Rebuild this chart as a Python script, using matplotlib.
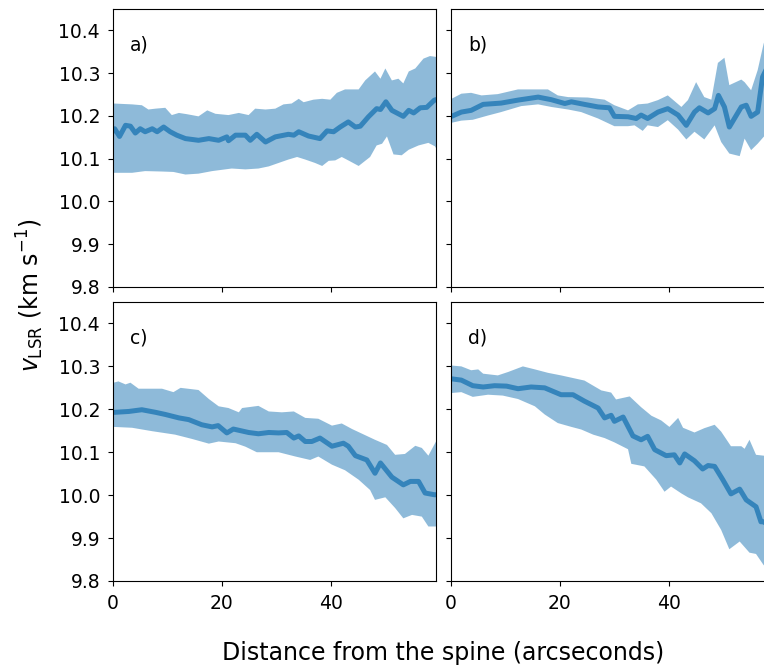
import numpy as np
import matplotlib
matplotlib.use("Agg")
import matplotlib.pyplot as plt

# ---------------- data ----------------
# Panel a
a_x = [0.0, 0.3, 1.2, 2.3, 3.2, 4.1, 5.0, 5.9, 7.2, 8.1, 9.3, 10.5, 11.7, 13.3, 15.7, 17.6, 19.4,
       20.9, 21.2, 22.5, 24.3, 25.2, 26.4, 28.0, 29.8, 32.2, 33.2, 34.1, 35.9, 38.0, 39.3, 40.5,
       41.7, 43.2, 44.5, 45.4, 46.9, 48.4, 49.1, 50.1, 51.2, 53.3, 54.3, 55.2, 56.4, 57.6, 59.0, 59.3]
a_mean = [10.165, 10.170, 10.152, 10.178, 10.176, 10.160, 10.170, 10.163, 10.170, 10.163, 10.174,
          10.163, 10.155, 10.147, 10.143, 10.147, 10.143, 10.151, 10.142, 10.155, 10.155, 10.143,
          10.157, 10.139, 10.151, 10.157, 10.155, 10.163, 10.153, 10.147, 10.165, 10.163, 10.174,
          10.186, 10.174, 10.176, 10.198, 10.217, 10.215, 10.233, 10.213, 10.199, 10.213, 10.207,
          10.219, 10.220, 10.237, 10.238]
a_hi_x = [0.0, 0.1, 3.5, 5.3, 6.5, 7.8, 9.6, 10.8, 12.1, 13.6, 15.7, 17.3, 18.8, 21.2, 23.1, 24.9,
          26.1, 28.0, 29.8, 31.3, 32.8, 34.1, 35.0, 36.8, 38.4, 39.9, 41.1, 42.6, 45.1, 46.3, 48.1,
          49.1, 50.0, 51.2, 52.4, 53.3, 54.3, 55.5, 57.0, 58.2, 59.3]
a_hi = [10.229, 10.229, 10.227, 10.225, 10.215, 10.217, 10.219, 10.202, 10.207, 10.204, 10.199,
        10.213, 10.205, 10.202, 10.207, 10.202, 10.217, 10.215, 10.217, 10.227, 10.229, 10.240,
        10.232, 10.238, 10.240, 10.238, 10.254, 10.262, 10.262, 10.283, 10.304, 10.287, 10.311,
        10.283, 10.287, 10.276, 10.304, 10.311, 10.334, 10.340, 10.338]
a_lo_x = [0.0, 0.1, 3.5, 5.9, 9.0, 11.1, 13.3, 15.7, 18.2, 21.8, 24.3, 26.7, 28.6, 30.4, 32.2,
          33.8, 35.3, 37.1, 38.4, 39.6, 40.8, 42.0, 43.2, 45.1, 47.2, 48.4, 49.4, 50.3, 51.5,
          53.0, 54.3, 56.1, 57.9, 59.1, 59.3]
a_lo = [10.067, 10.067, 10.067, 10.071, 10.070, 10.069, 10.063, 10.065, 10.071, 10.077, 10.075,
        10.077, 10.082, 10.090, 10.098, 10.104, 10.098, 10.090, 10.083, 10.095, 10.096, 10.104,
        10.096, 10.083, 10.104, 10.131, 10.135, 10.152, 10.110, 10.108, 10.121, 10.131, 10.137,
        10.129, 10.125]

# Panel b
b_x = [0.0, 0.1, 1.9, 3.7, 5.9, 9.2, 12.3, 16.0, 18.4, 20.9, 22.1, 24.5, 27.0, 29.1, 30.0, 32.5,
       34.0, 34.9, 36.1, 38.0, 39.8, 41.7, 43.2, 44.7, 45.6, 47.2, 48.4, 49.1, 50.2, 51.1, 53.3,
       54.2, 55.1, 56.3, 57.2, 58.3, 59.3]
b_mean = [10.199, 10.199, 10.209, 10.213, 10.227, 10.230, 10.237, 10.244, 10.238, 10.229, 10.233,
          10.227, 10.221, 10.219, 10.199, 10.198, 10.194, 10.202, 10.194, 10.209, 10.217, 10.202,
          10.178, 10.209, 10.219, 10.207, 10.217, 10.248, 10.221, 10.174, 10.221, 10.225, 10.199,
          10.209, 10.291, 10.320, 10.330]
b_hi_x = [0.0, 0.1, 1.9, 3.7, 5.6, 8.6, 12.3, 16.0, 17.8, 19.6, 21.5, 25.1, 28.2, 30.0, 32.5,
          34.3, 36.1, 38.0, 39.8, 42.3, 43.5, 45.0, 46.5, 47.8, 49.0, 50.2, 51.1, 53.3, 53.9,
          55.1, 56.3, 57.4, 58.3, 59.3]
b_hi = [10.240, 10.240, 10.252, 10.254, 10.248, 10.251, 10.262, 10.262, 10.262, 10.248, 10.244,
        10.243, 10.238, 10.225, 10.213, 10.227, 10.229, 10.237, 10.248, 10.221, 10.237, 10.279,
        10.244, 10.238, 10.324, 10.336, 10.272, 10.285, 10.279, 10.260, 10.307, 10.369, 10.400,
        10.410]
b_lo_x = [0.0, 0.1, 1.9, 4.0, 6.8, 9.2, 12.9, 16.0, 18.4, 21.5, 23.9, 27.0, 30.0, 32.5, 33.7,
          35.2, 36.1, 38.0, 39.8, 41.7, 43.2, 44.7, 46.5, 48.4, 49.6, 51.1, 53.0, 53.9, 55.1,
          56.3, 57.4, 58.3, 59.3]
b_lo = [10.184, 10.184, 10.189, 10.191, 10.201, 10.209, 10.223, 10.227, 10.221, 10.215, 10.209,
        10.194, 10.176, 10.176, 10.178, 10.165, 10.178, 10.174, 10.190, 10.168, 10.145, 10.163,
        10.145, 10.178, 10.139, 10.112, 10.106, 10.147, 10.120, 10.135, 10.151, 10.165, 10.170]

# Panel c
c_x = [0.0, 0.3, 2.9, 5.3, 7.8, 9.6, 12.1, 13.9, 16.3, 18.2, 19.3, 20.9, 22.1, 24.9, 26.7, 28.6,
       30.4, 31.9, 33.2, 34.1, 35.3, 36.5, 38.0, 40.2, 42.3, 43.2, 44.5, 46.6, 48.1, 49.1, 51.2,
       53.3, 54.6, 56.1, 57.3, 59.0, 59.3]
c_mean = [10.193, 10.193, 10.195, 10.199, 10.193, 10.188, 10.180, 10.176, 10.164, 10.159, 10.162,
          10.145, 10.154, 10.146, 10.143, 10.146, 10.145, 10.146, 10.133, 10.138, 10.125, 10.125,
          10.133, 10.114, 10.121, 10.114, 10.092, 10.082, 10.051, 10.075, 10.042, 10.024, 10.032,
          10.032, 10.005, 10.001, 10.001]
c_hi_x = [0.0, 0.1, 1.0, 2.3, 3.2, 4.7, 9.0, 11.1, 12.4, 15.7, 17.6, 19.4, 21.2, 23.1, 23.7,
          26.7, 28.6, 31.0, 33.2, 35.3, 37.7, 40.2, 42.0, 43.9, 48.1, 50.3, 51.8, 53.6, 55.5,
          56.7, 57.9, 59.3]
c_hi = [10.262, 10.262, 10.265, 10.258, 10.262, 10.248, 10.248, 10.240, 10.250, 10.245, 10.224,
        10.207, 10.203, 10.193, 10.203, 10.208, 10.195, 10.193, 10.195, 10.180, 10.178, 10.162,
        10.167, 10.154, 10.129, 10.117, 10.094, 10.096, 10.115, 10.110, 10.092, 10.125]
c_lo_x = [0.0, 0.1, 3.5, 7.2, 11.4, 14.5, 17.6, 19.4, 22.5, 24.3, 26.4, 30.4, 33.5, 36.2, 37.7,
          40.2, 42.6, 45.1, 47.2, 48.1, 50.0, 51.8, 53.3, 54.9, 56.7, 57.9, 59.3]
c_lo = [10.159, 10.159, 10.157, 10.149, 10.141, 10.131, 10.120, 10.125, 10.121, 10.113, 10.100,
        10.100, 10.090, 10.082, 10.090, 10.071, 10.058, 10.036, 10.012, 9.989, 9.995, 9.970,
        9.946, 9.954, 9.950, 9.927, 9.927]

# Panel d
d_x = [0.0, 0.1, 1.9, 4.0, 5.9, 8.0, 10.2, 12.3, 14.7, 17.2, 20.2, 22.4, 24.5, 27.0, 28.2, 29.4,
       30.0, 31.6, 33.4, 34.9, 36.1, 37.4, 39.5, 41.0, 42.0, 42.9, 44.7, 46.2, 47.2, 48.4, 49.9,
       51.4, 53.0, 54.2, 56.0, 56.9, 57.4, 58.3, 59.3]
d_mean = [10.271, 10.271, 10.268, 10.255, 10.252, 10.255, 10.254, 10.248, 10.252, 10.250, 10.234,
          10.234, 10.219, 10.203, 10.180, 10.186, 10.172, 10.182, 10.138, 10.129, 10.137, 10.106,
          10.092, 10.094, 10.075, 10.096, 10.080, 10.061, 10.069, 10.067, 10.036, 10.003, 10.014,
          9.989, 9.973, 9.938, 9.938, 9.930, 9.925]
d_hi_x = [0.0, 0.1, 1.9, 3.7, 5.0, 5.9, 8.6, 10.5, 13.2, 15.4, 17.8, 20.2, 22.7, 24.5, 27.6,
          29.4, 30.3, 32.8, 34.9, 36.8, 38.6, 40.1, 41.7, 42.6, 44.7, 46.5, 48.4, 49.6, 51.4,
          53.3, 53.9, 54.8, 56.0, 57.4, 58.3, 59.3]
d_hi = [10.302, 10.302, 10.300, 10.291, 10.293, 10.283, 10.279, 10.287, 10.300, 10.293, 10.285,
        10.279, 10.272, 10.267, 10.244, 10.239, 10.223, 10.230, 10.205, 10.185, 10.174, 10.159,
        10.180, 10.157, 10.146, 10.156, 10.164, 10.148, 10.114, 10.114, 10.108, 10.129, 10.094,
        10.092, 10.090, 10.090]
d_lo_x = [0.0, 0.1, 1.9, 4.0, 6.8, 9.5, 12.3, 15.4, 17.2, 19.6, 22.1, 23.9, 26.1, 28.2, 30.0,
          32.5, 33.1, 35.5, 37.7, 39.2, 40.4, 42.3, 43.5, 45.9, 47.8, 49.6, 51.1, 53.0, 54.8,
          56.0, 57.4, 58.3, 59.3]
d_lo = [10.238, 10.238, 10.240, 10.229, 10.234, 10.232, 10.224, 10.207, 10.188, 10.168, 10.159,
        10.153, 10.141, 10.133, 10.123, 10.107, 10.073, 10.067, 10.036, 10.008, 10.020, 10.004,
        9.995, 9.981, 9.958, 9.919, 9.874, 9.892, 9.866, 9.863, 9.837, 9.830, 9.825]

labels = ["a)", "b)", "c)", "d)"]
panels = [
    (a_x, a_mean, a_hi_x, a_hi, a_lo_x, a_lo),
    (b_x, b_mean, b_hi_x, b_hi, b_lo_x, b_lo),
    (c_x, c_mean, c_hi_x, c_hi, c_lo_x, c_lo),
    (d_x, d_mean, d_hi_x, d_hi, d_lo_x, d_lo),
]
xticks = [0, 20, 40]
yticks = [9.8, 9.9, 10.0, 10.1, 10.2, 10.3, 10.4]

# ---------------- figure ----------------
W, H = 764, 665
fig = plt.figure(figsize=(W / 100, H / 100), dpi=100)

def frac(l, t, r, b):
    return [l / W, 1 - b / H, (r - l) / W, (b - t) / H]

boxes = [frac(113, 9, 436, 287), frac(451, 9, 774, 287),
         frac(113, 302, 436, 581), frac(451, 302, 774, 581)]

fs = 13.5
for i, (box, (mx, my, hx, hy, lx, ly)) in enumerate(zip(boxes, panels)):
    ax = fig.add_axes(box)
    poly_x = list(hx) + list(lx)[::-1]
    poly_y = list(hy) + list(ly)[::-1]
    ax.fill(poly_x, poly_y, color="C0", alpha=0.5, lw=0)
    ax.plot(mx, my, color="C0", alpha=0.8, lw=3.6)
    ax.set_xlim(0, 59.3)
    ax.set_ylim(9.8, 10.45)
    ax.set_xticks(xticks)
    ax.set_yticks(yticks)
    ax.tick_params(labelsize=fs, pad=5.8)
    if i in (0, 1):
        ax.set_xticklabels([])
    if i in (1, 3):
        ax.set_yticklabels([])
    ax.text(0.053, 0.87, labels[i], transform=ax.transAxes, fontsize=fs,
            ha="left", va="center")

fig.text(30 / W, 1 - 295 / H, r"$v_{\rm LSR}$ (km s$^{-1}$)", rotation=90,
         fontsize=17, ha="center", va="center")
fig.text(443 / W, 1 - 653 / H, "Distance from the spine (arcseconds)",
         fontsize=17, ha="center", va="center")

fig.savefig("out.png", dpi=100)
